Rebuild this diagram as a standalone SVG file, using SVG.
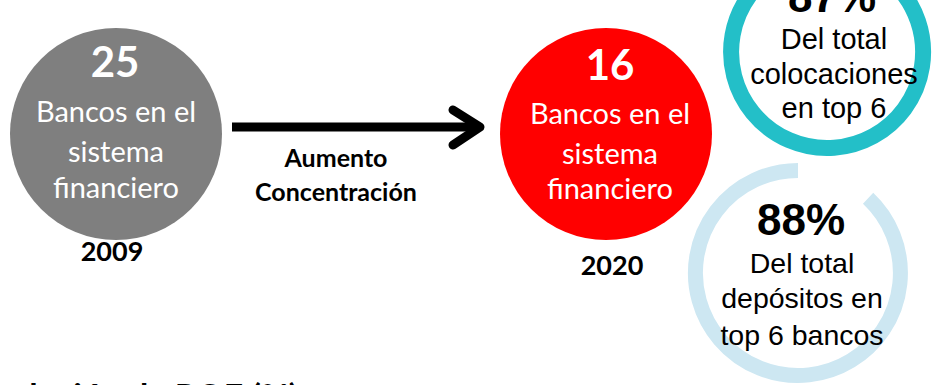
<svg xmlns="http://www.w3.org/2000/svg" width="938" height="385" viewBox="0 0 938 385">
<style>
.w{fill:#fff;font-family:Lato,"Open Sans",sans-serif;text-anchor:middle}
.b{fill:#000;font-family:Lato,"Open Sans",sans-serif;font-weight:bold;text-anchor:middle}
.r{fill:#000;font-family:"Liberation Sans",Arial,sans-serif;text-anchor:middle}
</style>
<rect width="938" height="385" fill="#fff"/>
<g id="ring87">
<path d="M 896.9 -13.9 A 96 96 0 1 1 827 -44" fill="none" stroke="#23BFC8" stroke-width="16"/>
<text class="r" x="832" y="12" font-size="44" font-weight="bold">87%</text>
<text class="r" x="834" y="49" font-size="29">Del total</text>
<text class="r" x="834" y="84" font-size="29">colocaciones</text>
<text class="r" x="834" y="118" font-size="29">en top 6</text>
</g>
<g id="ring88">
<path d="M 868.1 198.3 A 102.5 102.5 0 1 1 798 170.5" fill="none" stroke="#CDE7F2" stroke-width="15"/>
<text class="r" x="801" y="235" font-size="44" font-weight="bold">88%</text>
<text class="r" x="802" y="273" font-size="28.5">Del total</text>
<text class="r" x="802" y="308" font-size="28.5">depósitos en</text>
<text class="r" x="802" y="345" font-size="28.5">top 6 bancos</text>
</g>
<g id="n2009">
<circle cx="116" cy="134" r="106" fill="#7F7F7F"/>
<text class="w" x="115" y="77" font-size="42" font-weight="bold">25</text>
<text class="w" x="116" y="122" font-size="29">Bancos en el</text>
<text class="w" x="116" y="162" font-size="29">sistema</text>
<text class="w" x="116" y="198" font-size="29">financiero</text>
<text class="b" x="112" y="261" font-size="27">2009</text>
</g>
<g id="n2020">
<circle cx="606" cy="134" r="106" fill="#FF0000"/>
<text class="w" x="610" y="80" font-size="42" font-weight="bold">16</text>
<text class="w" x="610" y="124" font-size="29">Bancos en el</text>
<text class="w" x="610" y="164" font-size="29">sistema</text>
<text class="w" x="610" y="199" font-size="29">financiero</text>
<text class="b" x="612" y="275" font-size="27">2020</text>
</g>
<g id="connectors">
<line x1="232" y1="127" x2="478" y2="127" stroke="#000" stroke-width="9"/>
<polyline points="453,110 480,127 453,145" fill="none" stroke="#000" stroke-width="9" stroke-linecap="round" stroke-linejoin="round"/>
<text class="b" x="336" y="167" font-size="25">Aumento</text>
<text class="b" x="336" y="201" font-size="25">Concentración</text>
</g>
<text class="b" x="298" y="409" font-size="34" style="text-anchor:end">Evolución de ROE (%)</text>
</svg>
